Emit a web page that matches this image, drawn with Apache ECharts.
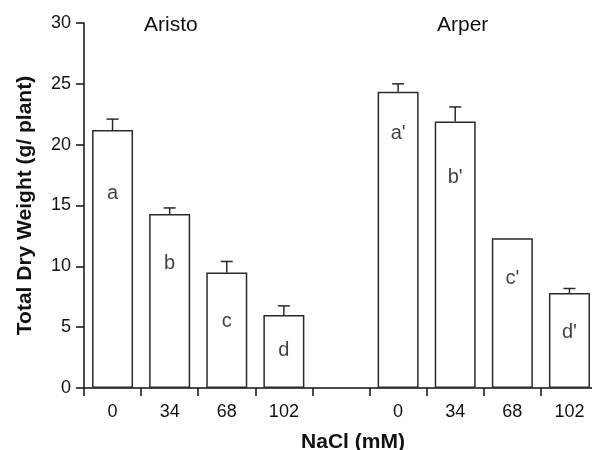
<!DOCTYPE html>
<html>
<head>
<meta charset="utf-8">
<script src="https://cdn.jsdelivr.net/npm/echarts@6/dist/echarts.min.js"></script>
<style>
  html, body { margin: 0; padding: 0; background: #fff; }
  #main { width: 592px; height: 450px; }
</style>
</head>
<body>
<div id="main"></div>
<script>
(function() {
	'use strict';

	// NaCl levels, Aristo then a spacer slot then Arper
	var categories = ['0', '34', '68', '102', '', '0', '34', '68', '102'];
	var dryWeight = [21.2, 14.3, 9.5, 6.0, null, 24.35, 21.9, 12.3, 7.8];
	var errUp = [0.9, 0.5, 0.9, 0.75, null, 0.65, 1.2, 0, 0.38];
	var letters = ['a', 'b', 'c', 'd', '', "a'", "b'", "c'", "d'"];
	var letterLevel = [16.0, 10.2, 5.5, 3.1, null, 20.9, 17.3, 9.0, 4.6];
	var groups = ['Aristo', 'Arper'];
	var yTicks = [0, 5, 10, 15, 20, 25, 30];

	var font = '"Liberation Sans", Arial, sans-serif';
	var ink = '#111';

	var errData = [];
	var letterData = [];
	for (var i = 0; i < categories.length; i++) {
		if (dryWeight[i] != null) {
			errData.push([i, dryWeight[i], errUp[i]]);
			letterData.push({ value: [i, letterLevel[i]], name: letters[i] });
		}
	}

	var myChart = echarts.init(document.getElementById('main'), null, { renderer: 'canvas' });

	var option = {
		animation: false,
		backgroundColor: '#fff',
		grid: { left: 84, right: -6, top: 23, bottom: 62, containLabel: false, outerBoundsMode: 'none' },
		xAxis: {
			type: 'category',
			data: categories,
			name: 'NaCl (mM)',
			nameLocation: 'middle',
			nameGap: 44,
			nameTextStyle: { fontFamily: font, fontSize: 21, fontWeight: 'bold', color: ink, padding: [0, 0, 0, 24] },
			axisLine: { lineStyle: { color: ink, width: 1.5 } },
			axisTick: { show: true, length: 8, interval: 0, lineStyle: { color: ink, width: 1.5 } },
			axisLabel: { interval: 0, margin: 15, fontFamily: font, fontSize: 18, color: ink },
			splitLine: { show: false }
		},
		yAxis: {
			type: 'value',
			min: yTicks[0],
			max: yTicks[yTicks.length - 1],
			interval: 5,
			name: 'Total Dry Weight (g/ plant)',
			nameLocation: 'middle',
			nameGap: 48,
			nameTextStyle: { fontFamily: font, fontSize: 21, fontWeight: 'bold', color: ink },
			axisLine: { show: true, lineStyle: { color: ink, width: 1.5 } },
			axisTick: { show: true, length: 8, lineStyle: { color: ink, width: 1.5 } },
			axisLabel: { margin: 13, fontFamily: font, fontSize: 18, color: ink },
			splitLine: { show: false }
		},
		series: [{
			type: 'bar',
			data: dryWeight,
			barWidth: 41,
			itemStyle: { color: '#fff', borderColor: '#2a2a2a', borderWidth: 1.5 },
			z: 2
		}, {
			type: 'custom',
			data: errData,
			z: 3,
			renderItem: function(params, api) {
				var x = api.value(0);
				var top = api.coord([x, api.value(1)]);
				var end = api.coord([x, api.value(1) + api.value(2)]);
				if (api.value(2) <= 0) {
					return null;
				}
				var half = 6;
				var style = { stroke: '#2a2a2a', lineWidth: 1.5 };
				return {
					type: 'group',
					children: [{
						type: 'line',
						shape: { x1: top[0], y1: top[1], x2: end[0], y2: end[1] },
						style: style
					}, {
						type: 'line',
						shape: { x1: end[0] - half, y1: end[1], x2: end[0] + half, y2: end[1] },
						style: style
					}]
				};
			}
		}, {
			type: 'scatter',
			data: letterData,
			symbolSize: 0,
			silent: true,
			z: 4,
			label: {
				show: true,
				position: 'inside',
				formatter: '{b}',
				fontFamily: font,
				fontSize: 20,
				color: ink
			}
		}],
		graphic: [{
			type: 'text',
			left: 144,
			top: 15,
			style: { text: groups[0], font: '21px ' + font, fill: ink }
		}, {
			type: 'text',
			left: 437,
			top: 15,
			style: { text: groups[1], font: '21px ' + font, fill: ink }
		}]
	};

	myChart.setOption(option);
})();
</script>
</body>
</html>
